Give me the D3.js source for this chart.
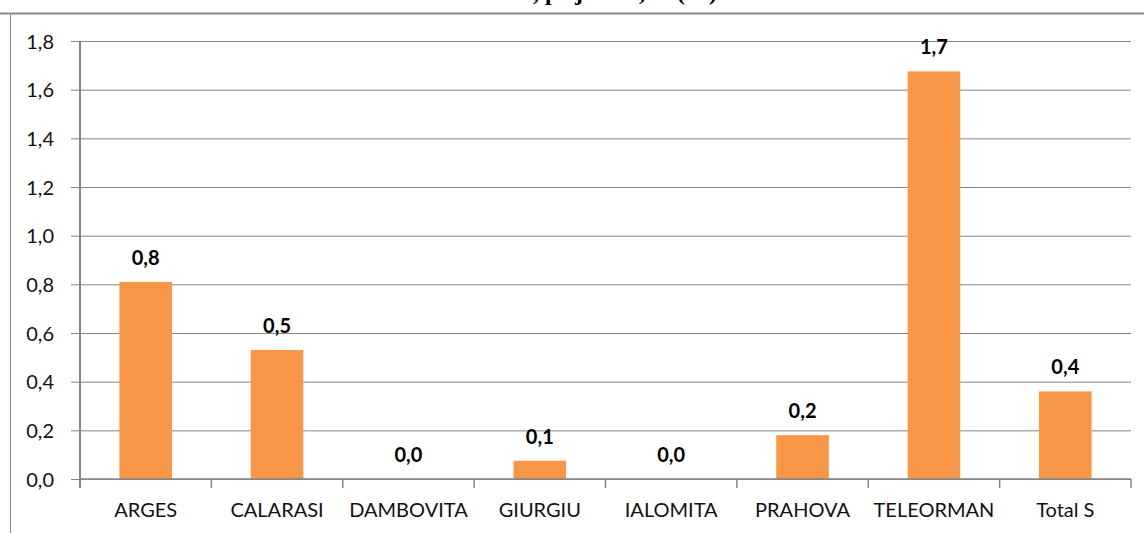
<!DOCTYPE html>
<html>
<head>
<meta charset="utf-8">
<script src="https://cdn.jsdelivr.net/npm/d3@7"></script>
<style>
  html, body { margin: 0; padding: 0; background: #fff; }
  svg { display: block; }
</style>
</head>
<body>
<svg id="chart" width="1144" height="533"></svg>
<script>
// judete si valori (%)
var judete = ["ARGES", "CALARASI", "DAMBOVITA", "GIURGIU", "IALOMITA", "PRAHOVA", "TELEORMAN", "Total S"];
var valori = [0.81, 0.53, 0, 0.075, 0, 0.18, 1.675, 0.36];
var yTicks = [0, 0.2, 0.4, 0.6, 0.8, 1.0, 1.2, 1.4, 1.6, 1.8];
var titluCap = "Rata abandonului scolar";
var titluCoada = ", pe judete, in (%)";

(function() {
  var colors = {
    bar: "#F79646",
    grid: "#868686",
    axis: "#868686",
    frame: "#8c8c8c"
  };

  var svg = d3.select("#chart");
  var width = 1144, height = 533;
  var mLeft = 80, mRight = 1131, mTop = 41, mBottom = 479;

  var fmt = function(v) { return d3.format(".1f")(v).replace(".", ","); };

  // rama
  svg.append("line")
    .attr("x1", 0).attr("x2", width)
    .attr("y1", 13.5).attr("y2", 13.5)
    .attr("stroke", colors.frame).attr("stroke-width", 2);
  svg.append("line")
    .attr("x1", 10.5).attr("x2", 10.5)
    .attr("y1", 13).attr("y2", height)
    .attr("stroke", colors.frame).attr("stroke-width", 1);

  // titlu (taiat sus)
  svg.append("text")
    .attr("x", 535).attr("y", 0)
    .attr("text-anchor", "end")
    .style("font-family", "'Liberation Serif', serif")
    .style("font-weight", "bold")
    .style("font-size", "24px")
    .text(titluCap);
  svg.append("text")
    .attr("x", 533).attr("y", 0)
    .style("font-family", "'Liberation Serif', serif")
    .style("font-weight", "bold")
    .style("font-size", "24px")
    .text(titluCoada);

  var x = d3.scaleBand()
    .domain(judete)
    .range([mLeft, mRight])
    .paddingInner(0.6)
    .paddingOuter(0.3);

  var y = d3.scaleLinear()
    .domain([0, 1.8])
    .range([mBottom, mTop]);

  // grila + axa y
  var yAxis = d3.axisLeft(y)
    .tickValues(yTicks)
    .tickSize(-(mRight - mLeft))
    .tickPadding(0)
    .tickFormat(fmt);
  var gy = svg.append("g")
    .attr("transform", "translate(" + mLeft + ",0)")
    .call(yAxis);
  gy.select(".domain").remove();
  gy.selectAll(".tick line")
    .attr("x1", -9)
    .attr("stroke", colors.grid)
    .attr("stroke-width", 1);
  gy.selectAll(".tick text")
    .attr("x", -26)
    .attr("dy", "0.36em")
    .attr("fill", "#111")
    .style("font-family", "Lato, sans-serif")
    .style("font-size", "20px");

  // axa verticala
  svg.append("line")
    .attr("x1", mLeft).attr("x2", mLeft)
    .attr("y1", mTop).attr("y2", mBottom + 9)
    .attr("stroke", colors.axis).attr("stroke-width", 2);

  // bare
  svg.append("g")
    .selectAll("rect")
    .data(judete)
    .enter()
    .append("rect")
      .attr("x", function(d) { return x(d); })
      .attr("width", x.bandwidth())
      .attr("y", function(d, i) { return y(valori[i]); })
      .attr("height", function(d, i) { return y(0) - y(valori[i]); })
      .attr("fill", colors.bar);

  // axa x (linia de baza si separatoare)
  svg.append("line")
    .attr("x1", mLeft).attr("x2", mRight)
    .attr("y1", y(0)).attr("y2", y(0))
    .attr("stroke", colors.axis).attr("stroke-width", 1.5);
  var step = x.step();
  svg.append("g")
    .selectAll("line")
    .data(d3.range(judete.length + 1))
    .enter()
    .append("line")
      .attr("x1", function(i) { return mLeft + i * step; })
      .attr("x2", function(i) { return mLeft + i * step; })
      .attr("y1", y(0)).attr("y2", y(0) + 9)
      .attr("stroke", colors.axis).attr("stroke-width", 1.5);

  // etichete categorii
  svg.append("g")
    .selectAll("text")
    .data(judete)
    .enter()
    .append("text")
      .attr("x", function(d) { return x(d) + x.bandwidth() / 2; })
      .attr("y", 517)
      .attr("text-anchor", "middle")
      .attr("fill", "#111")
      .style("font-family", "Lato, sans-serif")
      .style("font-size", "20px")
      .text(function(d) { return d; });

  // etichete valori
  svg.append("g")
    .selectAll("text")
    .data(judete)
    .enter()
    .append("text")
      .attr("x", function(d) { return x(d) + x.bandwidth() / 2; })
      .attr("y", function(d, i) { return y(valori[i]) - 17; })
      .attr("text-anchor", "middle")
      .attr("fill", "#000")
      .style("font-family", "Lato, sans-serif")
      .style("font-weight", "bold")
      .style("font-size", "20px")
      .text(function(d, i) { return fmt(valori[i]); });
})();
</script>
</body>
</html>
